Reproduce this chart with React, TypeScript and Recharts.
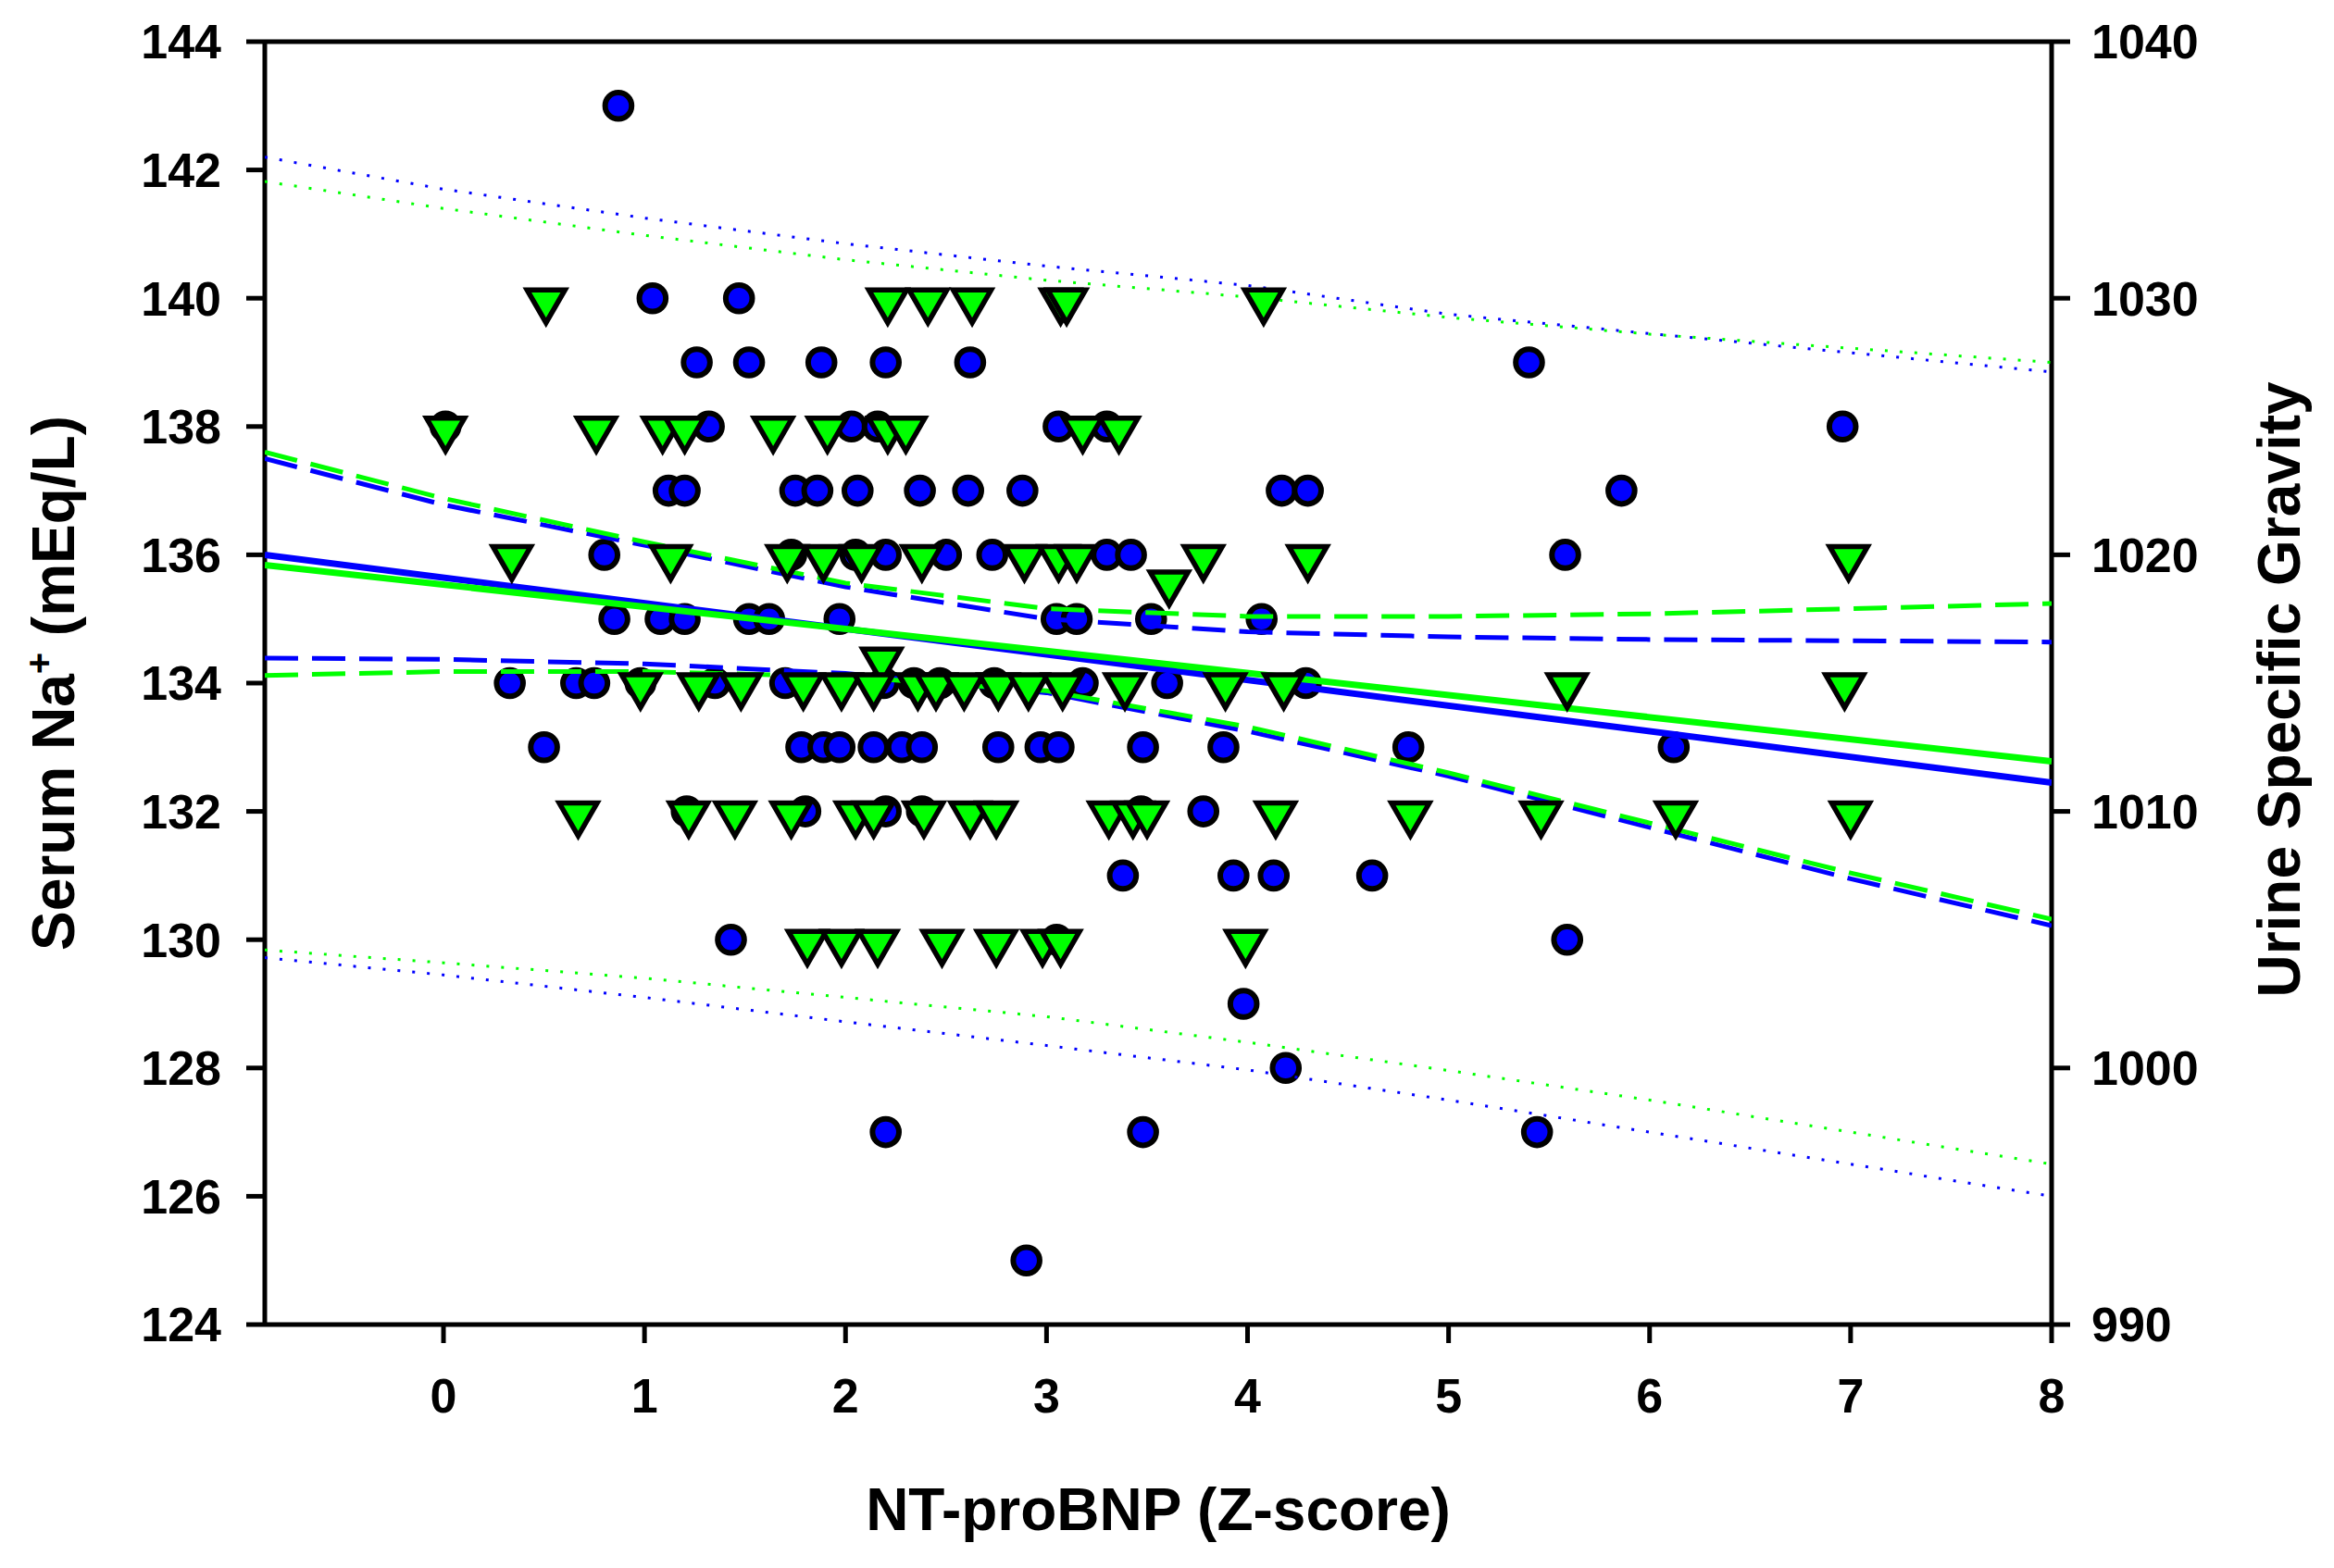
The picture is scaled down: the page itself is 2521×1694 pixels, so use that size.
import React from 'react';
import { ScatterChart, Scatter, XAxis, YAxis, ReferenceLine, Label } from 'recharts';

const FONT = 'Arial, "Liberation Sans", Helvetica, sans-serif';
const BLUE = '#0000FF';
const GREEN = '#00FF00';

// Serum Na+ (left axis), x positions grouped by value
const na143 = [0.87];
const na140 = [1.04, 1.47];
const na139 = [1.26, 1.52, 1.88, 2.2, 2.62, 5.4];
const na138 = [0.01, 1.32, 2.03, 2.16, 3.06, 3.3, 6.96];
const na137 = [1.12, 1.2, 1.75, 1.86, 2.06, 2.37, 2.61, 2.88, 4.17, 4.3, 5.86];
const na136 = [0.8, 1.73, 2.05, 2.2, 2.5, 2.73, 3.3, 3.42, 5.58];
const na135 = [0.85, 1.08, 1.2, 1.52, 1.62, 1.97, 3.05, 3.15, 3.52, 4.07];
const na134 = [0.33, 0.66, 0.75, 0.98, 1.35, 1.7, 2.19, 2.34, 2.47, 2.74, 3.18, 3.6, 4.29];
const na133 = [0.5, 1.78, 1.89, 1.97, 2.14, 2.28, 2.38, 2.76, 2.97, 3.06, 3.48, 3.88, 4.8, 6.12];
const na132 = [1.21, 1.8, 2.2, 2.38, 3.47, 3.78];
const na131 = [3.38, 3.93, 4.13, 4.62];
const na130 = [1.43, 3.05, 5.59];
const na129 = [3.98];
const na128 = [4.19];
const na127 = [2.2, 3.48, 5.44];
const na125 = [2.9];

// Urine specific gravity (right axis)
const usg1030 = [0.51, 2.21, 2.41, 2.63, 3.07, 3.1, 4.08];
const usg1025 = [0.01, 0.76, 1.09, 1.2, 1.64, 1.91, 2.21, 2.3, 3.18, 3.36];
const usg1020 = [0.34, 1.13, 1.71, 1.89, 2.08, 2.38, 2.89, 3.06, 3.15, 3.78, 4.3, 6.99];
const usg1019 = [3.61];
const usg1016 = [2.18];
const usg1015 = [0.98, 1.27, 1.48, 1.79, 1.98, 2.14, 2.36, 2.45, 2.59, 2.76, 2.91, 3.08, 3.39, 3.89, 4.18, 5.59, 6.97];
const usg1010 = [0.67, 1.22, 1.45, 1.73, 2.05, 2.14, 2.39, 2.62, 2.75, 3.31, 3.43, 3.5, 4.14, 4.81, 5.46, 6.13, 7.0];
const usg1005 = [1.81, 1.98, 2.16, 2.48, 2.75, 2.98, 3.07, 3.99];

// regression lines and bands
const fitX = [-0.889, 8];
const naFit = [136.0, 132.45];
const usgFit = [1019.6, 1011.95];

const bandX = [-0.889, 0, 1, 2, 3, 4, 5, 6, 7, 8];
const naCiUpper = [137.5, 136.78, 136.15, 135.5, 135.0, 134.8, 134.72, 134.68, 134.66, 134.64];
const naCiLower = [134.39, 134.37, 134.3, 134.15, 133.85, 133.25, 132.55, 131.75, 130.95, 130.22];
const naPiUpper = [142.2, 141.7, 141.25, 140.85, 140.5, 140.2, 139.75, 139.45, 139.15, 138.85];
const naPiLower = [129.72, 129.45, 129.1, 128.72, 128.35, 127.97, 127.5, 127.0, 126.5, 126.0];
const usgCiUpper = [1024.0, 1022.2, 1020.5, 1018.9, 1017.9, 1017.6, 1017.6, 1017.7, 1017.9, 1018.1];
const usgCiLower = [1015.3, 1015.45, 1015.45, 1015.25, 1014.7, 1013.3, 1011.5, 1009.55, 1007.6, 1005.8];
const usgPiUpper = [1034.55, 1033.5, 1032.45, 1031.5, 1030.7, 1030.05, 1029.25, 1028.6, 1028.05, 1027.5];
const usgPiLower = [1004.6, 1004.1, 1003.5, 1002.75, 1002.0, 1001.0, 999.9, 998.75, 997.5, 996.25];

const leftTicks = [124, 126, 128, 130, 132, 134, 136, 138, 140, 142, 144];
const rightTicks = [990, 1000, 1010, 1020, 1030, 1040];
const xTicks = [0, 1, 2, 3, 4, 5, 6, 7, 8];

const group = (rows: [number, number[]][]) =>
    rows.flatMap(([y, xs]) => xs.map(x => ({ x, y })));

const sodiumData = group([
    [143, na143], [140, na140], [139, na139], [138, na138], [137, na137], [136, na136],
    [135, na135], [134, na134], [133, na133], [132, na132], [131, na131], [130, na130],
    [129, na129], [128, na128], [127, na127], [125, na125],
]);

const usgData = group([
    [1030, usg1030], [1025, usg1025], [1020, usg1020], [1019, usg1019],
    [1016, usg1016], [1015, usg1015], [1010, usg1010], [1005, usg1005],
]);

const curve = (xs: number[], ys: number[]) => xs.map((x, i) => ({ x, y: ys[i] }));

const Circle = (props: any) => (
    <circle cx={props.cx} cy={props.cy} r={14.3} fill={BLUE} stroke="#000" strokeWidth={6} />
);

const Triangle = (props: any) => {
    const { cx, cy } = props;
    return (
        <polygon
            points={`${cx - 20.5},${cy - 9} ${cx + 20.5},${cy - 9} ${cx},${cy + 26.5}`}
            fill={GREEN}
            stroke="#000"
            strokeWidth={5.5}
            strokeLinejoin="miter"
        />
    );
};

const NoDot = () => <g />;

const tickStyle = { fill: '#000', fontSize: 52, fontWeight: 'bold', fontFamily: FONT };
const axisStroke = { stroke: '#000', strokeWidth: 5 };

const lineSeries = (
    key: string,
    data: { x: number; y: number }[],
    axis: string,
    color: string,
    width: number,
    dash?: string,
) => (
    <Scatter
        key={key}
        data={data}
        yAxisId={axis}
        fill={color}
        shape={NoDot}
        line={{ stroke: color, strokeWidth: width, strokeDasharray: dash }}
        isAnimationActive={false}
    />
);

export default function App() {
    return (
        <div style={{ position: 'absolute', left: 0, top: 0, width: 2521, height: 1694, background: '#fff' }}>
            <ScatterChart width={2521} height={1694} margin={{ top: 45, right: 15, bottom: 13, left: 106 }}>
                <XAxis
                    type="number"
                    dataKey="x"
                    domain={[-0.889, 8]}
                    ticks={xTicks}
                    allowDataOverflow
                    height={250}
                    tick={tickStyle}
                    tickSize={20}
                    tickMargin={38}
                    axisLine={axisStroke}
                    tickLine={axisStroke}
                >
                    <Label
                        content={() => (
                            <text x={1251} y={1653} textAnchor="middle" fontFamily={FONT} fontWeight="bold" fontSize={64} fill="#000">
                                NT-proBNP (Z-score)
                            </text>
                        )}
                    />
                </XAxis>
                <YAxis
                    yAxisId="left"
                    type="number"
                    dataKey="y"
                    domain={[124, 144]}
                    ticks={leftTicks}
                    allowDataOverflow
                    width={180}
                    tick={tickStyle}
                    tickSize={20}
                    tickMargin={27}
                    axisLine={axisStroke}
                    tickLine={axisStroke}
                >
                    <Label
                        content={() => (
                            <text
                                x={80}
                                y={738}
                                transform="rotate(-90, 80, 738)"
                                textAnchor="middle"
                                fontFamily={FONT}
                                fontWeight="bold"
                                fontSize={64}
                                fill="#000"
                            >
                                Serum Na<tspan dy={-24} fontSize={40}>+</tspan><tspan dy={24}> (mEq/L)</tspan>
                            </text>
                        )}
                    />
                </YAxis>
                <YAxis
                    yAxisId="right"
                    orientation="right"
                    type="number"
                    dataKey="y"
                    domain={[990, 1040]}
                    ticks={rightTicks}
                    allowDataOverflow
                    width={290}
                    tick={tickStyle}
                    tickSize={20}
                    tickMargin={23}
                    axisLine={axisStroke}
                    tickLine={axisStroke}
                >
                    <Label
                        content={() => (
                            <text
                                x={2484}
                                y={745}
                                transform="rotate(-90, 2484, 745)"
                                textAnchor="middle"
                                fontFamily={FONT}
                                fontWeight="bold"
                                fontSize={64}
                                fill="#000"
                            >
                                Urine Specific Gravity
                            </text>
                        )}
                    />
                </YAxis>
                <ReferenceLine yAxisId="left" y={144} stroke="#000" strokeWidth={5} />

                <Scatter data={sodiumData} yAxisId="left" fill={BLUE} shape={Circle} isAnimationActive={false} />

                {lineSeries('naPiU', curve(bandX, naPiUpper), 'left', BLUE, 3, '3 13')}
                {lineSeries('naPiL', curve(bandX, naPiLower), 'left', BLUE, 3, '3 13')}
                {lineSeries('usgPiU', curve(bandX, usgPiUpper), 'right', GREEN, 3, '3 13')}
                {lineSeries('usgPiL', curve(bandX, usgPiLower), 'right', GREEN, 3, '3 13')}
                {lineSeries('naCiU', curve(bandX, naCiUpper), 'left', BLUE, 5, '36 15')}
                {lineSeries('naCiL', curve(bandX, naCiLower), 'left', BLUE, 5, '36 15')}
                {lineSeries('usgCiU', curve(bandX, usgCiUpper), 'right', GREEN, 5, '36 15')}
                {lineSeries('usgCiL', curve(bandX, usgCiLower), 'right', GREEN, 5, '36 15')}
                {lineSeries('naFit', curve(fitX, naFit), 'left', BLUE, 7)}
                {lineSeries('usgFit', curve(fitX, usgFit), 'right', GREEN, 7)}

                <Scatter data={usgData} yAxisId="right" fill={GREEN} shape={Triangle} isAnimationActive={false} />
            </ScatterChart>
        </div>
    );
}
